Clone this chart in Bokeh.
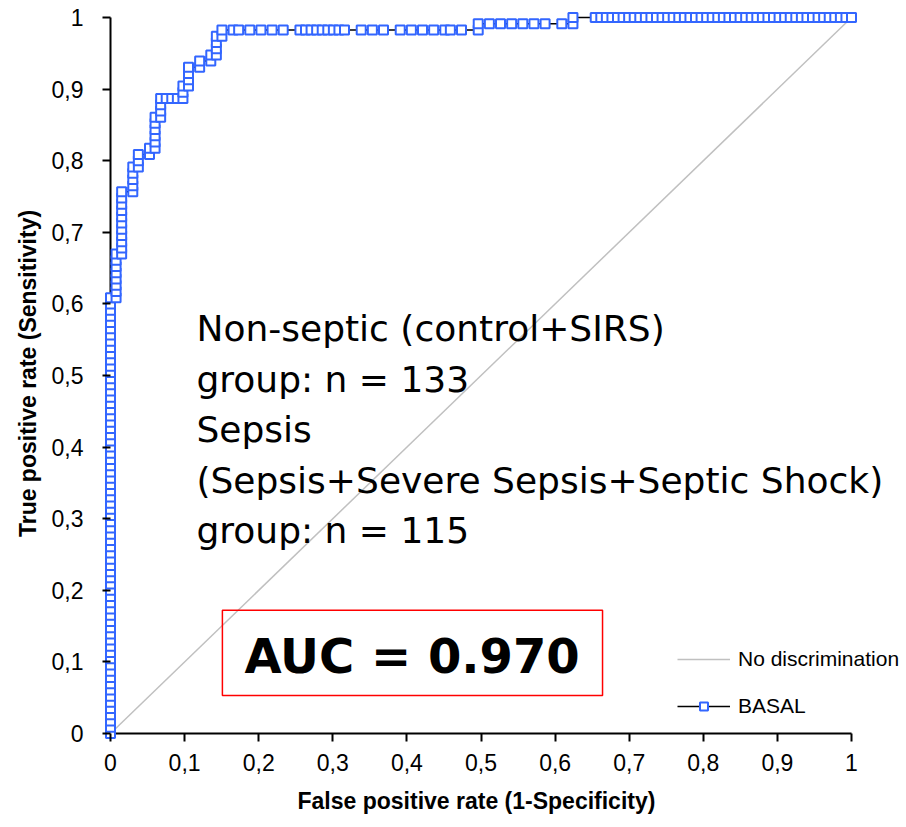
from bokeh.plotting import figure
from bokeh.models import (Legend, LegendItem, Label, BoxAnnotation, FixedTicker,
                          CustomJSTickFormatter, Range1d, ColumnDataSource, Title)
from bokeh.embed import file_html
from bokeh.resources import INLINE

# ---------------- data ----------------
n_negative = 133   # Non-septic group
n_positive = 115   # Sepsis group

# ROC operating points, as counts of
# false positives / true positives at each threshold
fp_counts = [
    0, 0, 0, 0, 0, 0, 0, 0, 0, 0, 0, 0, 0, 0, 0, 0, 0, 0, 0, 0,
    0, 0, 0, 0, 0, 0, 0, 0, 0, 0, 0, 0, 0, 0, 0, 0, 0, 0, 0, 0,
    0, 0, 0, 0, 0, 0, 0, 0, 0, 0, 0, 0, 0, 0, 0, 0, 0, 0, 0, 0,
    0, 0, 0, 0, 0, 0, 0, 0, 0, 0, 0,
    1, 1, 1, 1, 1, 1, 1, 1,
    2, 2, 2, 2, 2, 2, 2, 2, 2, 2, 2,
    4, 4, 4, 4, 4,
    5, 5, 5,
    7, 7,
    8, 8, 8, 8, 8, 8,
    9, 9, 9, 9,
    10, 11, 12,
    13, 13, 13,
    14, 14, 14, 14,
    16, 16,
    18, 18,
    19, 19, 19, 19,
    20, 20,
    22, 23, 25, 27, 29, 31, 34, 35, 36, 37, 38, 39, 40, 41, 42, 45, 47, 49,
    52, 54, 56, 58, 60, 61, 63, 66,
    66, 68, 70, 72, 74, 76, 78, 81, 83,
    83, 87, 88, 89, 90, 91, 92, 93, 94, 95, 96, 97, 98, 99, 100, 101, 102,
    103, 104, 105, 106, 107, 108, 109, 110, 111, 112, 113, 114, 115, 116,
    117, 118, 119, 120, 121, 122, 123, 124, 125, 126, 127, 128, 129, 130,
    131, 132, 133,
]
tp_counts = [
    0, 1, 2, 3, 4, 5, 6, 7, 8, 9, 10, 11, 12, 13, 14, 15, 16, 17, 18, 19,
    20, 21, 22, 23, 24, 25, 26, 27, 28, 29, 30, 31, 32, 33, 34, 35, 36, 37, 38, 39,
    40, 41, 42, 43, 44, 45, 46, 47, 48, 49, 50, 51, 52, 53, 54, 55, 56, 57, 58, 59,
    60, 61, 62, 63, 64, 65, 66, 67, 68, 69, 70,
    70, 71, 72, 73, 74, 75, 76, 77,
    77, 78, 79, 80, 81, 82, 83, 84, 85, 86, 87,
    87, 88, 89, 90, 91,
    91, 92, 93,
    93, 94,
    94, 95, 96, 97, 98, 99,
    99, 100, 101, 102,
    102, 102, 102,
    102, 103, 104,
    104, 105, 106, 107,
    107, 108,
    108, 109,
    109, 110, 111, 112,
    112, 113,
    113, 113, 113, 113, 113, 113, 113, 113, 113, 113, 113, 113, 113, 113, 113, 113, 113, 113,
    113, 113, 113, 113, 113, 113, 113, 113,
    114, 114, 114, 114, 114, 114, 114, 114, 114,
    115, 115, 115, 115, 115, 115, 115, 115, 115, 115, 115, 115, 115, 115, 115, 115, 115,
    115, 115, 115, 115, 115, 115, 115, 115, 115, 115, 115, 115, 115, 115,
    115, 115, 115, 115, 115, 115, 115, 115, 115, 115, 115, 115, 115, 115,
    115, 115, 115,
]
assert len(fp_counts) == len(tp_counts)

diag_x = [0, 1]
diag_y = [0, 1]

axis_min = 0
axis_max = 1
tick_values = [0, 0.1, 0.2, 0.3, 0.4, 0.5, 0.6, 0.7, 0.8, 0.9, 1]
tick_labels = ["0", "0,1", "0,2", "0,3", "0,4", "0,5", "0,6", "0,7", "0,8", "0,9", "1"]
x_title = "False positive rate (1-Specificity)"
y_title = "True positive rate (Sensitivity)"

annotation_lines = [
    "Non-septic (control+SIRS)",
    "group: n = 133",
    "Sepsis",
    "(Sepsis+Severe Sepsis+Septic Shock)",
    "group: n = 115",
]
auc_text = "AUC = 0.970"

# ---------------- figure ----------------
fpr = [v / n_negative for v in fp_counts]
tpr = [v / n_positive for v in tp_counts]
src = ColumnDataSource(dict(x=fpr, y=tpr))

p = figure(width=906, height=827, output_backend="svg", toolbar_location=None,
           x_range=Range1d(-0.0108, 1.0715), y_range=Range1d(-0.01117, 1.0168),
           min_border_left=102, min_border_right=2, min_border_top=5,
           min_border_bottom=86)
p.outline_line_color = None
p.grid.visible = False
p.background_fill_color = "white"
p.border_fill_color = "white"

# axis lines through the origin (drawn under the data)
p.line([axis_min, axis_max], [axis_min, axis_min], line_color="black", line_width=2)
p.line([axis_min, axis_min], [axis_min, axis_max], line_color="black", line_width=2)

diag = p.line(diag_x, diag_y, line_color="#C0C0C0", line_width=1.5)
roc_line = p.line("x", "y", source=src, line_color="black", line_width=1.5)
roc_pts = p.scatter("x", "y", source=src, marker="square", size=9,
                    line_color="#3366FF", line_width=2, fill_color="white")

# axes
fmt = CustomJSTickFormatter(args=dict(values=tick_values, labels=tick_labels), code="""
    let best = 0, bd = 1e9;
    for (let i = 0; i < values.length; i++) {
        const d = Math.abs(values[i] - tick);
        if (d < bd) { bd = d; best = i; }
    }
    return labels[best];
""")
for ax in (p.xaxis[0], p.yaxis[0]):
    ax.ticker = FixedTicker(ticks=tick_values)
    ax.formatter = fmt
    ax.bounds = (axis_min, axis_max)
    ax.axis_line_color = None
    ax.major_tick_line_color = "black"
    ax.major_tick_line_width = 2
    ax.major_tick_out = 0
    ax.major_tick_in = 8
    ax.minor_tick_line_color = None
    ax.major_label_text_font = "Liberation Sans"
    ax.major_label_text_font_size = "23px"
    ax.major_label_text_color = "black"
    ax.axis_label_text_font = "Liberation Sans"
    ax.axis_label_text_font_style = "bold"
    ax.axis_label_text_font_size = "23px"
    ax.axis_label_text_color = "black"

p.yaxis.axis_label = y_title
p.xaxis.major_label_standoff = 12
p.yaxis.major_label_standoff = 19
p.yaxis.axis_label_standoff = 8

# x axis title placed under the 0..1 axis rather than under the wider frame
p.add_layout(Title(text=x_title, align="left", offset=195, standoff=25,
                   text_font="Liberation Sans", text_font_style="bold",
                   text_font_size="23px", text_color="black"), "below")

# text annotations
line_y = [0.565, 0.494, 0.424, 0.353, 0.283]
for txt, yy in zip(annotation_lines, line_y):
    p.add_layout(Label(x=0.116, y=yy, text=txt, text_font="DejaVu Sans",
                       text_font_size="36px", text_color="black",
                       text_baseline="alphabetic", text_align="left"))

p.add_layout(BoxAnnotation(left=0.151, right=0.664, bottom=0.053, top=0.172,
                           fill_alpha=0, line_color="#FF0000", line_alpha=1.0,
                           line_width=1.5))
p.add_layout(Label(x=0.407, y=0.108, text=auc_text, text_font="DejaVu Sans",
                   text_font_style="bold", text_font_size="48px",
                   text_color="black", text_align="center",
                   text_baseline="alphabetic"))

legend = Legend(items=[LegendItem(label="No discrimination", renderers=[diag]),
                       LegendItem(label="BASAL", renderers=[roc_line, roc_pts])],
                location=(575, 23), glyph_width=53, glyph_height=20,
                label_height=20, spacing=23, padding=0, margin=0,
                label_standoff=8, border_line_color=None,
                background_fill_alpha=0, label_text_font="Liberation Sans",
                label_text_font_size="21px", label_text_color="black")
p.add_layout(legend)

open("out.html", "w").write(file_html(p, INLINE))
